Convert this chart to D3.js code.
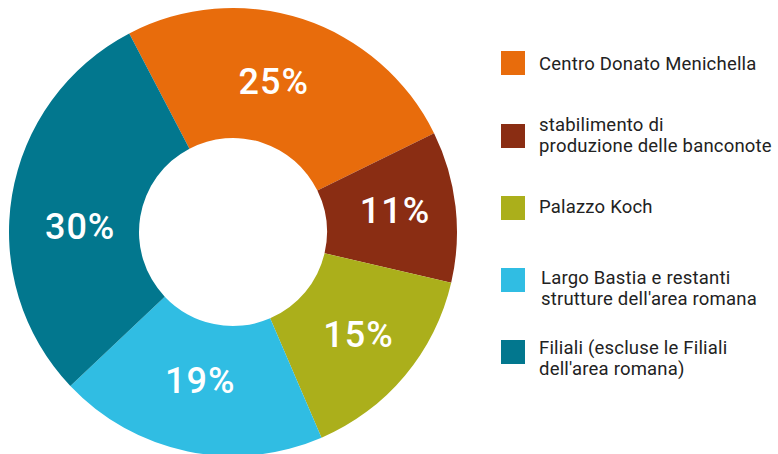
<!DOCTYPE html>
<html><head><meta charset="utf-8">
<script src="https://cdn.jsdelivr.net/npm/d3@7"></script>
<style>html,body{margin:0;padding:0;background:#fff;}svg{display:block;}</style>
</head><body>
<svg id="chart" width="778" height="454"></svg>
<script>
const categories = ["Centro Donato Menichella", "stabilimento di produzione delle banconote", "Palazzo Koch", "Largo Bastia e restanti strutture dell'area romana", "Filiali (escluse le Filiali dell'area romana)"];
const legendLines = [["Centro Donato Menichella"], ["stabilimento di", "produzione delle banconote"], ["Palazzo Koch"], ["Largo Bastia e restanti", "strutture dell'area romana"], ["Filiali (escluse le Filiali", "dell'area romana)"]];
// slice shares
const values = [25.4, 10.9, 14.9, 19.4, 29.4];
// percentage labels as printed on the chart
const valueLabels = ["25%", "11%", "15%", "19%", "30%"];
const colors = ["#E86C0C", "#8A2D13", "#ABAF1B", "#30BDE3", "#02778E"];

const svg = d3.select("#chart");
const cx = 233, cy = 232, outerR = 224, innerR = 94, labelR = 157;
const startA = -27.6 * Math.PI / 180;
// small label nudges (styling)
const labelNudge = [[-8, -2], [6, -4], [5, 1], [-1, -6], [2, 20]];

const pie = d3.pie().sort(null).value(d => d).startAngle(startA).endAngle(startA + 2 * Math.PI);
const arcs = pie(values);
const arc = d3.arc().innerRadius(innerR).outerRadius(outerR);
const labelArc = d3.arc().innerRadius(labelR).outerRadius(labelR);

const g = svg.append("g").attr("transform", `translate(${cx},${cy})`);
g.selectAll("path").data(arcs).join("path")
  .attr("d", arc).attr("fill", (d, i) => colors[i]);

g.selectAll("text").data(arcs).join("text")
  .attr("transform", (d, i) => {
    const c = labelArc.centroid(d);
    return `translate(${c[0] + labelNudge[i][0]},${c[1] + labelNudge[i][1]})`;
  })
  .attr("text-anchor", "middle").attr("dy", "0.36em")
  .attr("fill", "#fff")
  .style("font-family", "Roboto, sans-serif").style("font-size", "36px")
  .style("font-weight", "500").style("letter-spacing", "1px")
  .text((d, i) => valueLabels[i]);

const legendY = [51, 124, 196, 268, 340];
const textY = [[70], [131, 152], [213], [284, 305], [354, 375]];
const lg = svg.append("g");
legendLines.forEach((lines, i) => {
  lg.append("rect").attr("x", 501).attr("y", legendY[i]).attr("width", 24).attr("height", 24).attr("fill", colors[i]);
  lines.forEach((t, j) => {
    lg.append("text").attr("x", i === 3 ? 541 : 539).attr("y", textY[i][j])
      .attr("fill", "#222")
      .style("font-family", "Roboto, sans-serif").style("font-size", "18.5px")
      .style("letter-spacing", "0.2px")
      .text(t);
  });
});
</script>
</body></html>
